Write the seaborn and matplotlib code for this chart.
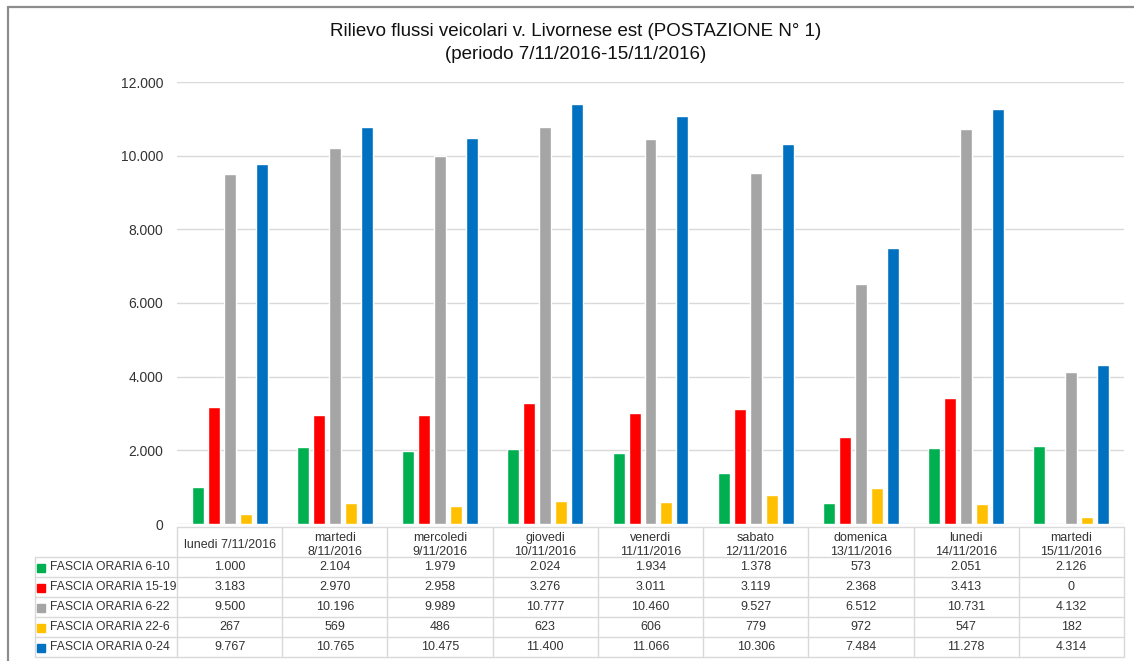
import matplotlib
matplotlib.use("Agg")
import matplotlib.pyplot as plt
from matplotlib.lines import Line2D
from matplotlib.ticker import FuncFormatter
import seaborn as sns
import pandas as pd

# Survey days (column headers of the data table)
days = [
    "lunedi 7/11/2016",
    "martedi\n8/11/2016",
    "mercoledi\n9/11/2016",
    "giovedi\n10/11/2016",
    "venerdi\n11/11/2016",
    "sabato\n12/11/2016",
    "domenica\n13/11/2016",
    "lunedi\n14/11/2016",
    "martedi\n15/11/2016",
]

# Time bands
bands = [
    "FASCIA ORARIA 6-10",
    "FASCIA ORARIA 15-19",
    "FASCIA ORARIA 6-22",
    "FASCIA ORARIA 22-6",
    "FASCIA ORARIA 0-24",
]

# Vehicle counts per band
fascia_6_10 = [1000, 2104, 1979, 2024, 1934, 1378, 573, 2051, 2126]
fascia_15_19 = [3183, 2970, 2958, 3276, 3011, 3119, 2368, 3413, 0]
fascia_6_22 = [9500, 10196, 9989, 10777, 10460, 9527, 6512, 10731, 4132]
fascia_22_6 = [267, 569, 486, 623, 606, 779, 972, 547, 182]
fascia_0_24 = [9767, 10765, 10475, 11400, 11066, 10306, 7484, 11278, 4314]

series = [fascia_6_10, fascia_15_19, fascia_6_22, fascia_22_6, fascia_0_24]
colors = ["#00B050", "#FF0000", "#A5A5A5", "#FFC000", "#0070C0"]

title = ("Rilievo flussi veicolari v. Livornese est (POSTAZIONE N° 1)\n"
         "(periodo 7/11/2016-15/11/2016)")

df = pd.DataFrame(
    [(d, b, v) for b, vals in zip(bands, series) for d, v in zip(days, vals)],
    columns=["giorno", "fascia", "veicoli"],
)

sns.set_theme(style="white")
plt.rcParams["font.family"] = ["Liberation Sans", "DejaVu Sans"]

W, H = 1134, 661
fig = plt.figure(figsize=(W / 100, H / 100), dpi=100)
fig.patch.set_facecolor("white")

ax_left, ax_right, ax_bottom, ax_top = 177, 1124, 524, 82
ax = fig.add_axes([ax_left / W, 1 - ax_bottom / H,
                   (ax_right - ax_left) / W, (ax_bottom - ax_top) / H])

sns.barplot(data=df, x="giorno", y="veicoli", hue="fascia", order=days,
            hue_order=bands, palette=colors, width=0.76, gap=0.25,
            saturation=1, legend=False, ax=ax)

ax.set_xlim(-0.5, len(days) - 0.5)
ax.set_ylim(0, 12000)
ax.set_yticks(range(0, 12001, 2000))
ax.yaxis.set_major_formatter(
    FuncFormatter(lambda v, _: f"{int(v):,}".replace(",", ".")))
ax.tick_params(axis="y", length=0, pad=10, labelsize=10, labelcolor="#333333")
ax.set_xticks([])
ax.set_xlabel("")
ax.set_ylabel("")
ax.grid(axis="y", color="#d9d9d9", linewidth=1)
ax.set_axisbelow(True)
for s in ax.spines.values():
    s.set_visible(False)

# Data table under the plot area (x in category units, y in axes fraction)
tr = ax.get_xaxis_transform()
ph = ax_bottom - ax_top
def yfrac(py):
    return (ax_bottom - py) / ph

label_left = -0.5 - (ax_left - 35) / ((ax_right - ax_left) / len(days))
header_top, header_bot = 527, 557
row_h = 20
n = len(days)
grid_c = "#d9d9d9"
kw = dict(transform=tr, clip_on=False, color=grid_c, linewidth=1)

# horizontal rules
ax.plot([-0.5, n - 0.5], [yfrac(header_top)] * 2, **kw)
for r in range(len(bands) + 1):
    yy = yfrac(header_bot + r * row_h)
    ax.plot([label_left, n - 0.5], [yy, yy], **kw)
# vertical rules
bottom = yfrac(header_bot + len(bands) * row_h)
ax.plot([label_left, label_left], [yfrac(header_bot), bottom], **kw)
for i in range(n + 1):
    xx = i - 0.5
    ax.plot([xx, xx], [yfrac(header_top), bottom], **kw)

txt_c = "#333333"
for i, d in enumerate(days):
    ax.text(i, yfrac((header_top + header_bot) / 2 + 3), d, transform=tr,
            ha="center", va="center", fontsize=9, color=txt_c,
            linespacing=1.2, clip_on=False)

for r, (b, vals, c) in enumerate(zip(bands, series, colors)):
    yc = yfrac(header_bot + r * row_h + row_h / 2 + 0.5)
    ax.plot([label_left + 0.06], [yc], marker="s", markersize=5.5, color=c,
             transform=tr, clip_on=False)
    ax.text(label_left + 0.14, yc, b, transform=tr, ha="left", va="center",
            fontsize=8.7, color=txt_c, clip_on=False)
    for i, v in enumerate(vals):
        ax.text(i, yc, f"{v:,}".replace(",", "."), transform=tr,
                ha="center", va="center", fontsize=9, color=txt_c,
                clip_on=False)

fig.text(576 / W, 1 - 43 / H, title, ha="center", va="center",
         fontsize=13.5, color="#111111", linespacing=1.5)

# outer chart frame
fig.add_artist(Line2D([8 / W, 8 / W], [0, 1 - 7 / H], transform=fig.transFigure,
                      color="#8c8c8c", linewidth=1.6))
fig.add_artist(Line2D([8 / W, 1], [1 - 7 / H, 1 - 7 / H], transform=fig.transFigure,
                      color="#8c8c8c", linewidth=1.6))

fig.savefig("out.png", dpi=100, facecolor="white")
